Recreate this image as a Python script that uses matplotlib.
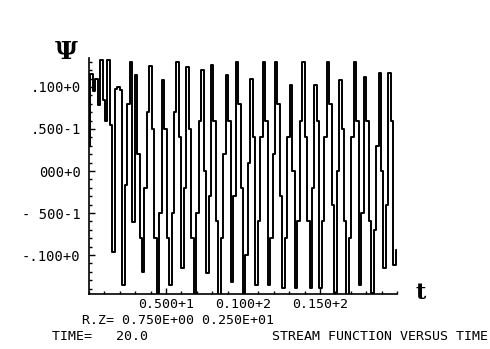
import matplotlib.pyplot as plt
import numpy as np

# stream function samples (uniform time step, t = 0 .. 20)
psi = [
    0.030, 0.115, 0.095, 0.110, 0.078, 0.132, 0.085, 0.060, 0.132, 0.055,
    -0.096, 0.098, 0.100, 0.097, -0.136, -0.017, 0.080, 0.130, -0.061, 0.114,
    0.020, -0.080, -0.120, -0.020, 0.070, 0.125, 0.050, -0.080, -0.145, -0.050,
    0.108, 0.050, -0.080, -0.136, -0.050, 0.070, 0.130, 0.040, -0.115, -0.020,
    0.124, 0.050, -0.080, -0.147, -0.050, 0.060, 0.120, 0.000, -0.121, -0.030,
    0.126, 0.060, -0.060, -0.147, -0.080, 0.020, 0.114, 0.060, -0.132, -0.030,
    0.130, 0.080, -0.020, -0.147, -0.100, 0.010, 0.110, 0.040, -0.136, -0.060,
    0.040, 0.130, 0.060, -0.136, -0.080, 0.020, 0.130, 0.080, -0.030, -0.139,
    -0.080, 0.040, 0.102, 0.000, -0.139, -0.060, 0.060, 0.130, 0.040, -0.060,
    -0.139, -0.020, 0.102, 0.060, -0.139, -0.060, 0.040, 0.130, 0.080, -0.040,
    -0.147, 0.000, 0.108, 0.050, -0.060, -0.147, -0.080, 0.040, 0.130, 0.060,
    -0.136, -0.050, 0.112, 0.060, -0.060, -0.145, -0.070, 0.030, 0.117, 0.000,
    -0.115, -0.040, 0.117, 0.060, -0.112, -0.094,
]
t = np.linspace(0.0, 20.0, len(psi))

y_ticks = [0.1, 0.05, 0.0, -0.05, -0.1]
y_tick_labels = ['.100+0', '.500-1', '000+0', '- 500-1', '-.100+0']
x_ticks = [5, 10, 15]
x_tick_labels = ['0.500+1', '0.100+2', '0.150+2']

mono = 'DejaVu Sans Mono'

fig = plt.figure(figsize=(4.9, 3.49), dpi=100)
ax = fig.add_axes([89 / 490, 55 / 349, 308 / 490, 236 / 349])

# plotter-style staircase: every sample drawn as a vertical stroke
ax.plot(t, psi, color='black', lw=1.4, drawstyle='steps-mid')

ax.set_xlim(0, 20)
ax.set_ylim(-0.1464, 0.1345)

for side in ['top', 'right']:
    ax.spines[side].set_visible(False)
for side in ['left', 'bottom']:
    ax.spines[side].set_linewidth(1.2)

ax.set_xticks(x_ticks)
ax.set_xticklabels(x_tick_labels, fontfamily=mono, fontsize=9.5)
ax.set_xticks(np.arange(0, 21, 1), minor=True)
ax.set_yticks(y_ticks)
ax.set_yticklabels(y_tick_labels, fontfamily=mono, fontsize=10)
ax.set_yticks(np.arange(-0.14, 0.135, 0.01), minor=True)
ax.tick_params(which='both', direction='in', width=1.0)
ax.tick_params(which='major', length=4)
ax.tick_params(axis='y', which='major', pad=6)
ax.tick_params(axis='x', which='major', pad=3)
ax.tick_params(which='minor', length=2.5)

fig.text(66 / 490, 1 - 52 / 349, 'Ψ', fontfamily='DejaVu Serif', fontweight='bold',
         fontsize=18, ha='center', va='center')
fig.text(421 / 490, 1 - 293 / 349, 't', fontfamily='DejaVu Serif', fontweight='bold',
         fontsize=16, ha='center', va='center')

fig.text(82 / 490, 1 - 320 / 349, 'R.Z= 0.750E+00 0.250E+01', fontfamily=mono,
         fontsize=9.5, ha='left', va='center')
fig.text(52 / 490, 1 - 337 / 349, 'TIME=   20.0', fontfamily=mono,
         fontsize=9.5, ha='left', va='center')
fig.text(488 / 490, 1 - 337 / 349, 'STREAM FUNCTION VERSUS TIME', fontfamily=mono,
         fontsize=9.5, ha='right', va='center')

fig.savefig('out.png', dpi=100)
